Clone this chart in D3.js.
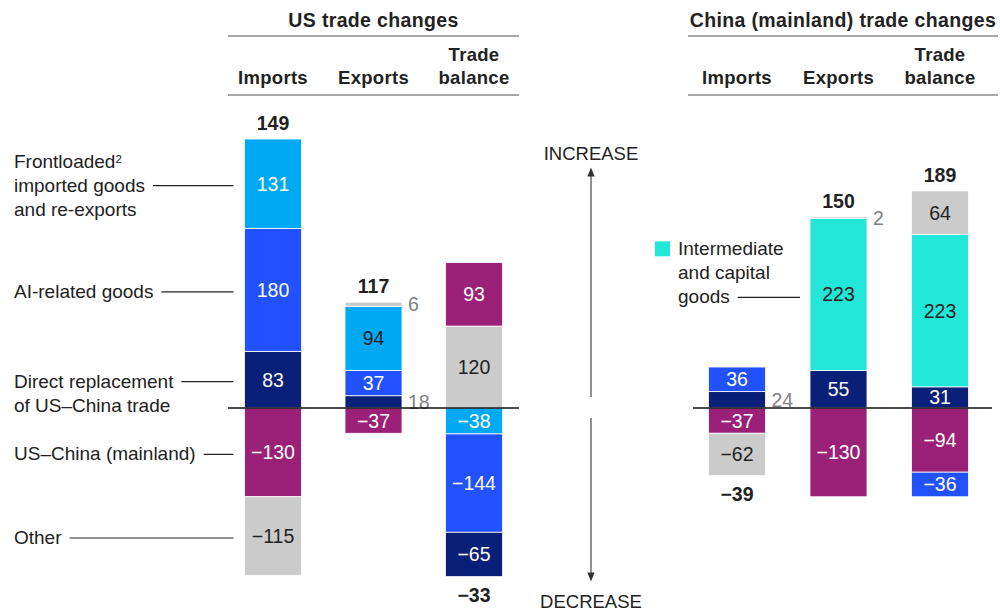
<!DOCTYPE html>
<html>
<head>
<meta charset="utf-8">
<script src="https://cdn.jsdelivr.net/npm/d3@7"></script>
<style>
  body { margin: 0; background: #fff; }
  text { font-family: "Liberation Sans", Arial, sans-serif; fill: #222; }
</style>
</head>
<body>
<script>
var width = 1000,
    height = 613;

var columns = ["Imports", "Exports", "Trade balance"];

// each bar: keys and values, gains stacked up from zero, losses stacked down
var usImportsKeys = ["direct", "ai", "frontloaded", "china", "other"];
var usImportsValues = [83, 180, 131, -130, -115];
var usExportsKeys = ["direct", "ai", "frontloaded", "other", "china"];
var usExportsValues = [18, 37, 94, 6, -37];
var usBalanceKeys = ["other", "china", "frontloaded", "ai", "direct"];
var usBalanceValues = [120, 93, -38, -144, -65];
var usTotals = [149, 117, -33];

var chinaImportsKeys = ["direct", "ai", "china", "other"];
var chinaImportsValues = [24, 36, -37, -62];
var chinaExportsKeys = ["direct", "intermediate", "other", "china"];
var chinaExportsValues = [55, 223, 2, -130];
var chinaBalanceKeys = ["direct", "intermediate", "other", "china", "ai"];
var chinaBalanceValues = [31, 223, 64, -94, -36];
var chinaTotals = [-39, 150, 189];

var categoryLabels = {
  frontloaded: ["Frontloaded", "imported goods", "and re-exports"],
  ai: ["AI-related goods"],
  direct: ["Direct replacement", "of US\u2013China trade"],
  china: ["US\u2013China (mainland)"],
  other: ["Other"]
};
var legendLabel = ["Intermediate", "and capital", "goods"];

var colors = {
  direct: "#0a1f78", ai: "#2251ff", frontloaded: "#00a9f4",
  china: "#9b2077", other: "#cbcbcb", intermediate: "#22e6d8"
};
var textColors = {
  direct: "#fff", ai: "#fff", frontloaded: "#fff",
  china: "#fff", other: "#222", intermediate: "#222"
};

function fmt(v) { return v < 0 ? "\u2212" + Math.abs(v) : "" + v; }

function stack(keys, values) {
  var pos = 0, neg = 0;
  return keys.map(function(k, i) {
    var v = values[i], y0, y1;
    if (v >= 0) { y0 = pos; pos += v; y1 = pos; }
    else { y0 = neg; neg += v; y1 = neg; }
    return {key: k, value: v, y0: y0, y1: y1};
  });
}

var svg = d3.select("body").append("svg").attr("width", width).attr("height", height);

var y = d3.scaleLinear().domain([0, 394]).range([408, 139]);
var barW = 57;

var xUS = d3.scalePoint().domain(columns).range([273, 474]);
var xCN = d3.scalePoint().domain(columns).range([737, 940]);

var usBars = [stack(usImportsKeys, usImportsValues), stack(usExportsKeys, usExportsValues), stack(usBalanceKeys, usBalanceValues)];
var cnBars = [stack(chinaImportsKeys, chinaImportsValues), stack(chinaExportsKeys, chinaExportsValues), stack(chinaBalanceKeys, chinaBalanceValues)];

function header(x, title, x0, x1) {
  var g = svg.append("g");
  g.append("text").attr("x", (x0 + x1) / 2).attr("y", 27).attr("text-anchor", "middle")
    .style("font-size", "19.5px").style("font-weight", "bold").style("letter-spacing", "0.35px").text(title);
  [36, 95].forEach(function(yy) {
    g.append("line").attr("x1", x0).attr("x2", x1).attr("y1", yy).attr("y2", yy)
      .style("stroke", "#8a8a8a").style("stroke-width", 1.5);
  });
  columns.forEach(function(c) {
    var words = c === "Trade balance" ? ["Trade", "balance"] : [c];
    words.forEach(function(w, i) {
      g.append("text").attr("x", x(c)).attr("y", 84 - (words.length - 1 - i) * 23)
        .attr("text-anchor", "middle").style("font-size", "18.5px").style("font-weight", "bold")
        .style("letter-spacing", "0.3px").text(w);
    });
  });
}

function bars(x, data, totals, darkLabels, x0, x1) {
  data.forEach(function(segs, i) {
    var cx = x(columns[i]);
    var g = svg.append("g");
    g.selectAll("rect").data(segs).enter().append("rect")
      .attr("x", cx - barW / 2)
      .attr("y", function(d) { return y(Math.max(d.y0, d.y1)); })
      .attr("width", barW)
      .attr("height", function(d) { return Math.abs(y(d.y0) - y(d.y1)); })
      .style("fill", function(d) { return colors[d.key]; })
      .style("stroke", "#fff").style("stroke-width", 0.8);
    g.selectAll("text").data(segs).enter().append("text")
      .attr("x", function(d) { return Math.abs(d.value) >= 30 ? cx : cx + barW / 2 + 6; })
      .attr("y", function(d) { return y((d.y0 + d.y1) / 2); })
      .attr("dy", "0.36em")
      .attr("text-anchor", function(d) { return Math.abs(d.value) >= 30 ? "middle" : "start"; })
      .style("font-size", "19.5px")
      .style("fill", function(d) {
        if (Math.abs(d.value) < 30) return "#808080";
        if (darkLabels.indexOf(i + "-" + d.key) >= 0) return "#222";
        return textColors[d.key];
      })
      .text(function(d) { return fmt(d.value); });

    var top = d3.max(segs, function(d) { return Math.max(d.y0, d.y1); });
    var bottom = d3.min(segs, function(d) { return Math.min(d.y0, d.y1); });
    var t = totals[i];
    g.append("text").attr("x", cx)
      .attr("y", t >= 0 ? y(top) - 9 : y(bottom) + 25)
      .attr("text-anchor", "middle").style("font-size", "19.5px").style("font-weight", "bold")
      .text(fmt(t));
  });
  svg.append("line").attr("x1", x0).attr("x2", x1).attr("y1", y(0)).attr("y2", y(0))
    .style("stroke", "#111").style("stroke-width", 1.3);
}

header(xUS, "US trade changes", 228, 519);
header(xCN, "China (mainland) trade changes", 688, 998);

bars(xUS, usBars, usTotals, ["1-frontloaded"], 228, 519);
bars(xCN, cnBars, chinaTotals, [], 693, 992);

// category labels on the left, tied to the US imports bar
var leaderRow = {frontloaded: 1, ai: 0, direct: 0, china: 0, other: 0};
var barLeft = xUS("Imports") - barW / 2;
usBars[0].forEach(function(d) {
  var lines = categoryLabels[d.key];
  var ly = y((d.y0 + d.y1) / 2) + 2;
  var row = leaderRow[d.key];
  var g = svg.append("g");
  var endX = 0;
  lines.forEach(function(l, j) {
    var t = g.append("text").attr("x", 14).attr("y", ly + 6 + (j - row) * 24).style("font-size", "19px");
    t.append("tspan").text(l);
    if (d.key === "frontloaded" && j === 0) {
      t.append("tspan").attr("dy", "-0.45em").style("font-size", "11.5px").text("2");
    }
    if (j === row) endX = t.node().getComputedTextLength() + 14;
  });
  g.append("line").attr("x1", endX + 8).attr("x2", barLeft - 11).attr("y1", ly).attr("y2", ly)
    .style("stroke", "#222").style("stroke-width", 1.2);
});

// legend for the China panel
var cnExp = cnBars[1].filter(function(d) { return d.key === "intermediate"; })[0];
var legY = y((cnExp.y0 + cnExp.y1) / 2) + 3;
svg.append("rect").attr("x", 655).attr("y", legY - 56).attr("width", 15).attr("height", 15)
  .style("fill", colors.intermediate);
var lastW = 0;
legendLabel.forEach(function(l, j) {
  var t = svg.append("text").attr("x", 678).attr("y", legY - 42 + j * 24).style("font-size", "19px").text(l);
  if (j === legendLabel.length - 1) lastW = t.node().getComputedTextLength();
});
svg.append("line").attr("x1", 678 + lastW + 8).attr("x2", xCN("Exports") - barW / 2 - 10)
  .attr("y1", legY).attr("y2", legY).style("stroke", "#222").style("stroke-width", 1.2);

// increase / decrease arrow
var ax = 591;
svg.append("defs").append("marker").attr("id", "head").attr("viewBox", "0 0 10 10")
  .attr("refX", 5).attr("refY", 5).attr("markerWidth", 7).attr("markerHeight", 7).attr("orient", "auto")
  .append("path").attr("d", "M0,1 L10,5 L0,9 Z").style("fill", "#333");
svg.append("line").attr("x1", ax).attr("x2", ax).attr("y1", y(0) - 11).attr("y2", 172)
  .style("stroke", "#555").style("stroke-width", 1.3).attr("marker-end", "url(#head)");
svg.append("line").attr("x1", ax).attr("x2", ax).attr("y1", y(0) + 10).attr("y2", 577)
  .style("stroke", "#555").style("stroke-width", 1.3).attr("marker-end", "url(#head)");
svg.append("text").attr("x", ax).attr("y", 160).attr("text-anchor", "middle").style("font-size", "18.5px").text("INCREASE");
svg.append("text").attr("x", ax).attr("y", 608).attr("text-anchor", "middle").style("font-size", "18.5px").text("DECREASE");
</script>
</body>
</html>
